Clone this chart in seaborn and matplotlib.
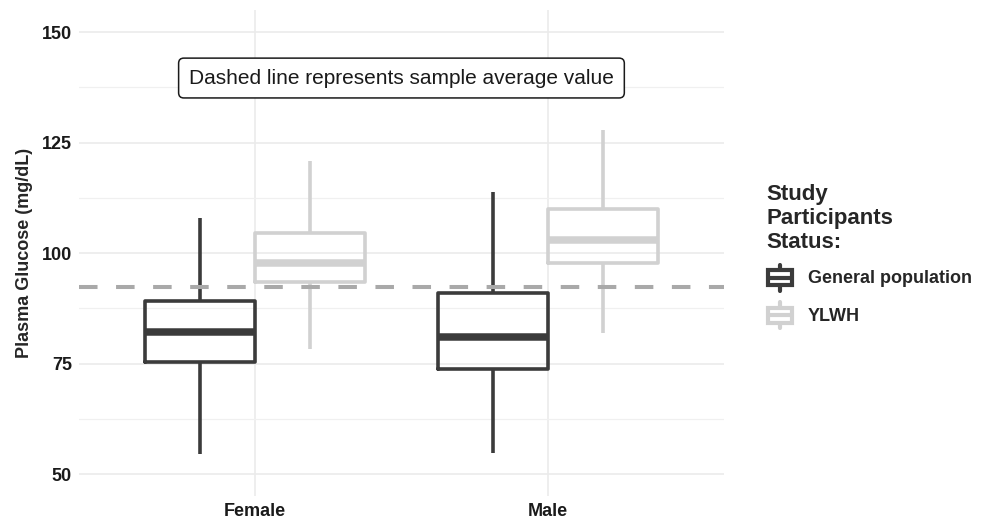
import matplotlib
matplotlib.use("Agg")
import matplotlib.pyplot as plt
from matplotlib.patches import Patch, Rectangle
from matplotlib.lines import Line2D
from matplotlib.legend_handler import HandlerBase
from matplotlib.ticker import MultipleLocator
import seaborn as sns
import pandas as pd

# five-number summaries: min, Q1, median, Q3, max
sexes = ["Female", "Male"]
statuses = ["General population", "YLWH"]
female_general = [54.5, 75.3, 82.2, 89.1, 108.0]
female_ylwh = [78.3, 93.5, 97.7, 104.5, 120.9]
male_general = [54.8, 73.8, 80.9, 90.9, 113.9]
male_ylwh = [82.0, 97.8, 102.9, 109.9, 127.8]
sample_mean = 92.4
palette = {"General population": "#3b3b3b", "YLWH": "#d1d1d1"}

rows = []
for sex, status, vals in [("Female", "General population", female_general),
                          ("Female", "YLWH", female_ylwh),
                          ("Male", "General population", male_general),
                          ("Male", "YLWH", male_ylwh)]:
    for v in vals:
        rows.append({"Sex": sex, "Status": status, "Glucose": v})
df = pd.DataFrame(rows)

sns.set_theme(style="white")
plt.rcParams['font.family'] = ['Liberation Sans', 'DejaVu Sans']

fig, ax = plt.subplots(figsize=(9.84, 5.25), dpi=100)
fig.subplots_adjust(left=0.080, right=0.736, bottom=0.055, top=0.981)

sns.boxplot(data=df, x="Sex", y="Glucose", hue="Status", order=sexes,
            hue_order=statuses, palette=palette, fill=False, width=0.75,
            gap=0, whis=(0, 100), showcaps=False, linewidth=2.6,
            medianprops={"linewidth": 5.4}, legend=False, ax=ax)

ax.axhline(sample_mean, color="#a9a9a9", lw=2.9, ls=(0, (4.6, 4.6)), zorder=5)

ax.set_xlim(-0.6, 1.6)
ax.set_ylim(45, 155)
ax.yaxis.set_major_locator(MultipleLocator(25))
ax.yaxis.set_minor_locator(MultipleLocator(12.5))
ax.grid(True, which="major", color="#ebebeb", lw=1.2, zorder=0)
ax.grid(True, which="minor", axis="y", color="#f0f0f0", lw=0.9, zorder=0)
ax.set_axisbelow(True)
sns.despine(ax=ax, left=True, bottom=True)
ax.tick_params(axis="both", length=0, labelsize=13, labelcolor="#1a1a1a", pad=5)
for lab in ax.get_xticklabels() + ax.get_yticklabels():
    lab.set_fontweight("bold")
ax.set_xlabel("")
ax.set_ylabel("Plasma Glucose (mg/dL)", fontsize=13, fontweight="bold", labelpad=6)

ax.text(0.5, 139.6, "Dashed line represents sample average value",
        ha="center", va="center", fontsize=15, color="#1a1a1a",
        bbox=dict(boxstyle="round,pad=0.5,rounding_size=0.25", fc="white",
                  ec="#1a1a1a", lw=1.1), zorder=6)


class BoxKey(HandlerBase):
    # small boxplot glyph for the legend keys, sized from the font size
    def create_artists(self, legend, orig_handle, xdescent, ydescent,
                       width, height, fontsize, trans):
        c = orig_handle.get_edgecolor()
        x0, y0 = -xdescent, -ydescent
        cx = x0 + width / 2
        cy = y0 + height / 2
        half = 0.42 * fontsize
        tail = 0.3 * fontsize
        lo, hi = cy - half, cy + half
        box = Rectangle((x0 + width * 0.06, lo), width * 0.88, hi - lo,
                        fc="white", ec=c, lw=3.0, transform=trans)
        med = Line2D([x0 + width * 0.06, x0 + width * 0.94], [cy, cy],
                     color=c, lw=3.0, transform=trans)
        top = Line2D([cx, cx], [hi, hi + tail], color=c, lw=3.0, transform=trans)
        bot = Line2D([cx, cx], [lo - tail, lo], color=c, lw=3.0, transform=trans)
        return [top, bot, box, med]


handles = [Patch(fc="white", ec=palette[s]) for s in statuses]
leg = fig.legend(handles, statuses, handler_map={Patch: BoxKey()},
                 loc="center left", bbox_to_anchor=(0.762, 0.512),
                 frameon=False, title="Study\nParticipants\nStatus:",
                 alignment="left", handlelength=1.55, handleheight=1.9,
                 handletextpad=0.75, labelspacing=0.6,
                 prop={"size": 13, "weight": "bold"},
                 title_fontproperties={"size": 16, "weight": "bold"})

fig.savefig("out.png", dpi=100)
